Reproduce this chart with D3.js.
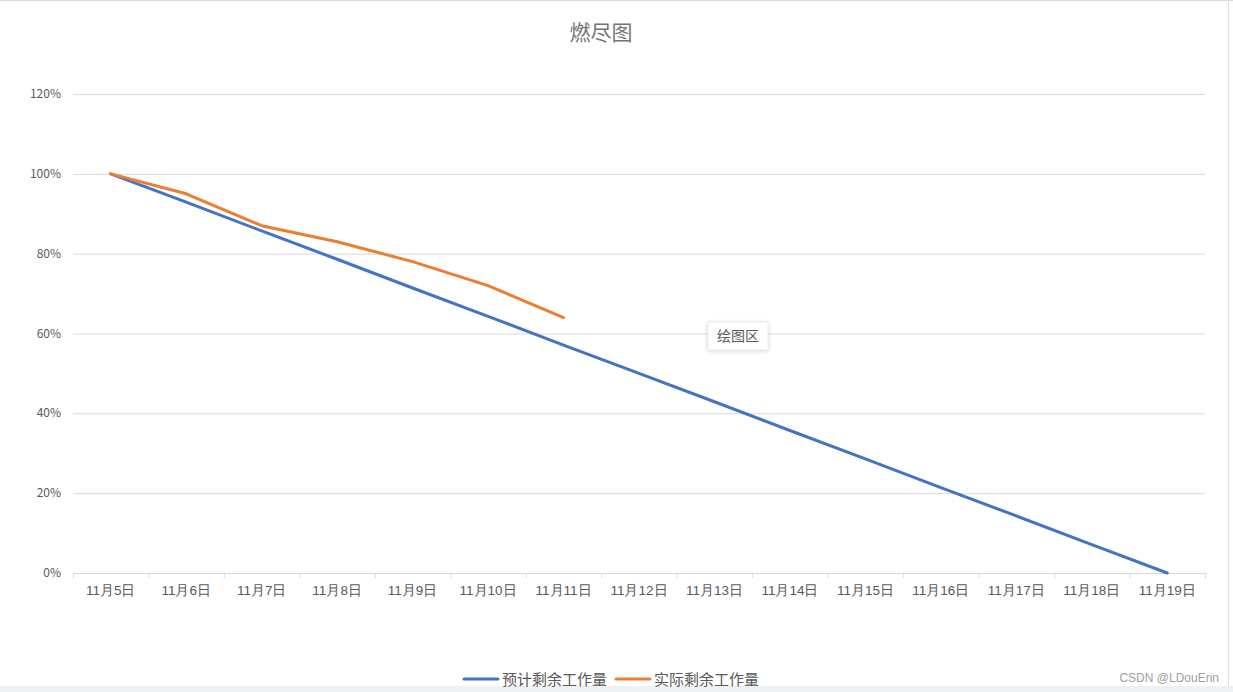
<!DOCTYPE html>
<html><head><meta charset="utf-8">
<script src="https://cdn.jsdelivr.net/npm/d3@7"></script>
<style>body{margin:0;background:#fff;font-family:"Noto Sans CJK SC","Microsoft YaHei",sans-serif}</style>
</head><body><div id="chart"></div>
<script>
const days = ["11月5日","11月6日","11月7日","11月8日","11月9日","11月10日","11月11日","11月12日","11月13日","11月14日","11月15日","11月16日","11月17日","11月18日","11月19日"]
const planned = [100,92.9,85.7,78.6,71.4,64.3,57.1,50,42.9,35.7,28.6,21.4,14.3,7.1,0]
const actual = [100,95,87,83,78,72,64]
const yTicks = [0,20,40,60,80,100,120]
const seriesNames = ["预计剩余工作量","实际剩余工作量"]
const colors = ["#4472c4","#ed7d31"]

const width = 1233, height = 692
const svg = d3.select("#chart").append("svg").attr("width", width).attr("height", height)
svg.append("rect").attr("width", width).attr("height", height).attr("fill", "#fff")
svg.append("line").attr("x1", 0).attr("x2", width).attr("y1", 0.5).attr("y2", 0.5).attr("stroke", "#d9d9d9")
svg.append("rect").attr("x", 0).attr("y", 686).attr("width", width).attr("height", 6).attr("fill", "#eef0f4")
svg.append("line").attr("x1", 1228.5).attr("x2", 1228.5).attr("y1", 0).attr("y2", 686).attr("stroke", "#e0e0e0")

const x = d3.scaleBand().domain(days).range([73, 1205])
const y = d3.scaleLinear().domain([0, 120]).range([573, 94])

svg.append("text").attr("x", 601).attr("y", 40).attr("text-anchor", "middle")
  .attr("font-size", 21).attr("fill", "#757575").text("燃尽图")

const grid = svg.append("g")
grid.selectAll("line").data(yTicks.filter(d => d > 0)).join("line")
  .attr("x1", 73).attr("x2", 1205).attr("y1", d => y(d) + 0.5).attr("y2", d => y(d) + 0.5)
  .attr("stroke", "#d9d9d9")
svg.selectAll(".yl").data(yTicks).join("text")
  .attr("x", 61).attr("y", d => y(d) + 4).attr("text-anchor", "end")
  .attr("font-size", 12).attr("fill", "#595959").text(d => d + "%")

const xAxis = svg.append("g").attr("transform", `translate(0,${y(0)})`)
  .call(d3.axisBottom(x).tickSize(0).tickPadding(12))
xAxis.select(".domain").attr("stroke", "#d9d9d9")
xAxis.selectAll("text").attr("font-size", 13.5).attr("fill", "#595959").attr("font-family", "inherit")
const edges = days.map(d => x(d)).concat([x.range()[1]])
xAxis.selectAll(".edge").data(edges).join("line")
  .attr("x1", d => d + 0.5).attr("x2", d => d + 0.5).attr("y1", 0).attr("y2", 5).attr("stroke", "#d9d9d9")

const line = d3.line().x((d, i) => x(days[i]) + x.bandwidth() / 2).y(d => y(d))
;[planned, actual].forEach((s, k) => {
  svg.append("path").datum(s).attr("d", line).attr("fill", "none")
    .attr("stroke", colors[k]).attr("stroke-width", 3).attr("stroke-linejoin", "round").attr("stroke-linecap", "round")
})

const tip = svg.append("g").attr("transform", "translate(708,322)")
tip.append("rect").attr("width", 60).attr("height", 28).attr("fill", "#fff")
  .attr("stroke", "#eee").style("filter", "drop-shadow(0 1px 2px rgba(0,0,0,.15))")
tip.append("text").attr("x", 30).attr("y", 19).attr("text-anchor", "middle")
  .attr("font-size", 14).attr("fill", "#595959").text("绘图区")

const leg = svg.append("g")
let lx = 464
seriesNames.forEach((n, k) => {
  leg.append("line").attr("x1", lx).attr("x2", lx + 34).attr("y1", 679).attr("y2", 679)
    .attr("stroke", colors[k]).attr("stroke-width", 3).attr("stroke-linecap", "round")
  leg.append("text").attr("x", lx + 38).attr("y", 685).attr("font-size", 15).attr("fill", "#595959").text(n)
  lx += 152
})

svg.append("text").attr("x", 1219).attr("y", 682).attr("text-anchor", "end")
  .attr("font-size", 12).attr("fill", "#a0a0a0").attr("font-family", "Arial, sans-serif").text("CSDN @LDouErin")
</script></body></html>
